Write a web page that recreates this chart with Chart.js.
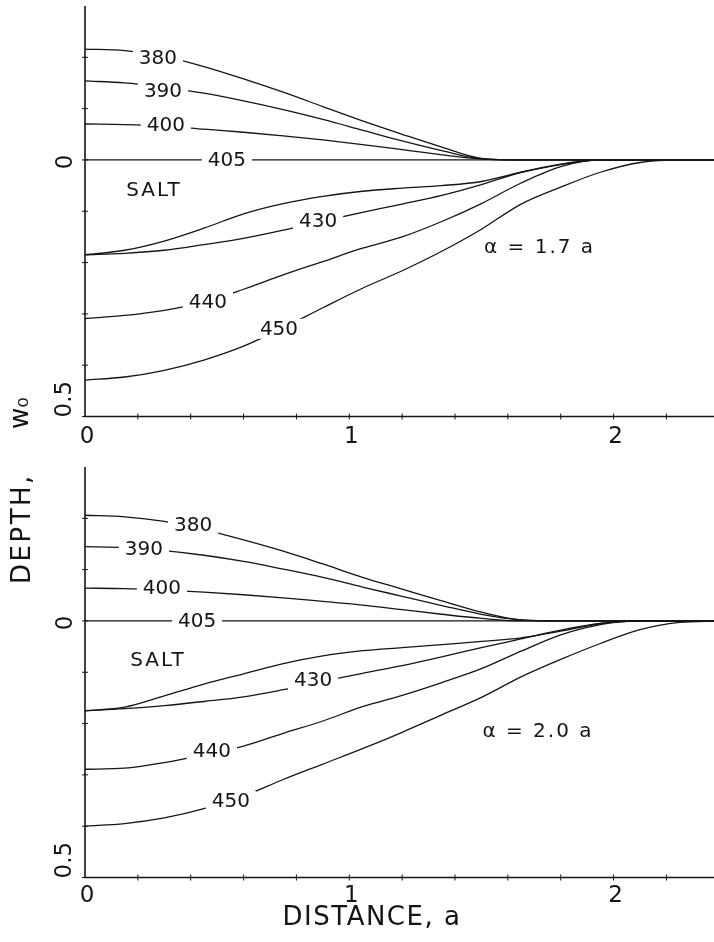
<!DOCTYPE html>
<html>
<head>
<meta charset="utf-8">
<script src="https://cdn.jsdelivr.net/npm/chart.js@4.4.0/dist/chart.umd.min.js"></script>
<style>
  html, body { margin: 0; padding: 0; background: #fff; }
  #wrap { position: relative; width: 714px; height: 942px; overflow: hidden; }
  canvas { position: absolute; left: 0; top: 0; }
</style>
</head>
<body>
<div id="wrap">
  <canvas id="topChart" width="714" height="942"></canvas>
  <canvas id="bottomChart" width="714" height="942"></canvas>
</div>
<script>
// distance, in units of a
const distance = [0, 0.15, 0.3, 0.45, 0.6, 0.75, 0.9, 1.05, 1.2, 1.35, 1.5, 1.65, 1.8, 1.95, 2.1, 2.25, 2.4];

// depth w0 of each contour, d = 1.7 a (top panel)
const top380 = [-0.216, -0.213, -0.202, -0.182, -0.158, -0.132, -0.104, -0.076, -0.050, -0.025, -0.003, 0, 0, 0, 0, 0, 0];
const top390 = [-0.154, -0.150, -0.141, -0.130, -0.115, -0.098, -0.079, -0.058, -0.037, -0.018, -0.002, 0, 0, 0, 0, 0, 0];
const top400 = [-0.070, -0.069, -0.066, -0.060, -0.054, -0.047, -0.039, -0.030, -0.020, -0.010, -0.002, 0, 0, 0, 0, 0, 0];
const top405 = [0, 0, 0, 0, 0, 0, 0, 0, 0, 0, 0, 0, 0, 0, 0, 0, 0];
const top420 = [0.185, 0.176, 0.158, 0.133, 0.105, 0.085, 0.071, 0.061, 0.055, 0.050, 0.042, 0.024, 0.009, 0, 0, 0, 0];
const top430 = [0.185, 0.182, 0.176, 0.165, 0.153, 0.137, 0.119, 0.102, 0.086, 0.069, 0.048, 0.024, 0.008, 0, 0, 0, 0];
const top440 = [0.309, 0.303, 0.293, 0.277, 0.252, 0.224, 0.198, 0.172, 0.150, 0.120, 0.085, 0.045, 0.013, 0, 0, 0, 0];
const top450 = [0.429, 0.423, 0.410, 0.390, 0.363, 0.327, 0.288, 0.250, 0.216, 0.178, 0.135, 0.086, 0.053, 0.024, 0.005, 0, 0];

// d = 2.0 a (bottom panel)
const bot380 = [-0.206, -0.203, -0.194, -0.178, -0.158, -0.136, -0.111, -0.085, -0.062, -0.039, -0.017, -0.002, 0, 0, 0, 0, 0];
const bot390 = [-0.145, -0.143, -0.137, -0.128, -0.116, -0.101, -0.085, -0.066, -0.048, -0.030, -0.013, -0.002, 0, 0, 0, 0, 0];
const bot400 = [-0.064, -0.063, -0.060, -0.056, -0.051, -0.045, -0.038, -0.031, -0.022, -0.013, -0.005, 0, 0, 0, 0, 0, 0];
const bot405 = [0, 0, 0, 0, 0, 0, 0, 0, 0, 0, 0, 0, 0, 0, 0, 0, 0];
const bot420 = [0.175, 0.168, 0.146, 0.123, 0.103, 0.083, 0.068, 0.058, 0.052, 0.046, 0.040, 0.033, 0.020, 0.005, 0, 0, 0];
const bot430 = [0.175, 0.171, 0.165, 0.157, 0.148, 0.134, 0.118, 0.102, 0.087, 0.070, 0.052, 0.035, 0.018, 0.005, 0, 0, 0];
const bot440 = [0.289, 0.287, 0.276, 0.261, 0.244, 0.219, 0.195, 0.167, 0.145, 0.120, 0.093, 0.059, 0.027, 0.007, 0, 0, 0];
const bot450 = [0.400, 0.395, 0.384, 0.366, 0.341, 0.309, 0.279, 0.249, 0.217, 0.183, 0.149, 0.109, 0.075, 0.044, 0.017, 0.003, 0];

// axis ticks and labels
const xTicks = [0.2, 0.4, 0.6, 0.8, 1, 1.2, 1.4, 1.6, 1.8, 2, 2.2];
const xTickLabels = ['0', '1', '2'];
const yTicks = [-0.2, -0.1, 0, 0.1, 0.2, 0.3, 0.4, 0.5];
const yTickLabels = ['0', '0.5'];

const FONT = '"DejaVu Sans", sans-serif';
const INK = '#151515';

// label placements (data units) for each panel
const topNotes = [
  { t: '380', x: 0.276, y: -0.199 }, { t: '390', x: 0.295, y: -0.135 },
  { t: '400', x: 0.306, y: -0.068 }, { t: '405', x: 0.537, y: 0 },
  { t: 'SALT', x: 0.261, y: 0.058, bare: true }, { t: '430', x: 0.882, y: 0.119 },
  { t: '440', x: 0.465, y: 0.277 }, { t: '450', x: 0.734, y: 0.329 },
  { t: 'α = 1.7 a', x: 1.72, y: 0.17, bare: true }
];
const botNotes = [
  { t: '380', x: 0.409, y: -0.188 }, { t: '390', x: 0.223, y: -0.140 },
  { t: '400', x: 0.291, y: -0.065 }, { t: '405', x: 0.424, y: 0 },
  { t: 'SALT', x: 0.276, y: 0.076, bare: true }, { t: '430', x: 0.863, y: 0.115 },
  { t: '440', x: 0.48, y: 0.254 }, { t: '450', x: 0.552, y: 0.351 },
  { t: 'α = 2.0 a', x: 1.714, y: 0.214, bare: true }
];

function pts(ys) {
  return distance.map((d, i) => ({ x: d, y: ys[i] }));
}

function rotText(ctx, txt, x, y, align) {
  ctx.save();
  ctx.translate(x, y);
  ctx.rotate(-Math.PI / 2);
  ctx.textAlign = align;
  ctx.textBaseline = 'middle';
  ctx.fillText(txt, 0, 0);
  ctx.restore();
}

function decor(notes, tickGap, titles) {
  return {
    id: 'decor',
    afterDatasetsDraw(chart) {
      const ctx = chart.ctx, xs = chart.scales.x, ys = chart.scales.y;
      const x0 = xs.getPixelForValue(0);
      const yb = ys.getPixelForValue(0.5), yt = ys.getPixelForValue(-0.3);
      ctx.save();
      ctx.strokeStyle = INK;
      ctx.fillStyle = INK;

      // axes
      ctx.lineWidth = 1.6;
      ctx.beginPath();
      ctx.moveTo(x0, yt);
      ctx.lineTo(x0, yb);
      ctx.lineTo(chart.width, yb);
      ctx.stroke();

      // little cross ticks
      ctx.lineWidth = 1;
      ctx.beginPath();
      yTicks.forEach(v => {
        const p = ys.getPixelForValue(v);
        ctx.moveTo(x0 - 3, p); ctx.lineTo(x0 + 3, p);
      });
      xTicks.forEach(v => {
        const p = xs.getPixelForValue(v);
        ctx.moveTo(p, yb - 3); ctx.lineTo(p, yb + 3);
      });
      ctx.stroke();

      // tick labels
      ctx.font = '23px ' + FONT;
      ctx.textAlign = 'center';
      ctx.textBaseline = 'middle';
      xTickLabels.forEach((s, i) => {
        ctx.fillText(s, xs.getPixelForValue(i) + 2, yb + tickGap);
      });
      rotText(ctx, yTickLabels[0], x0 - 19, ys.getPixelForValue(0) + 2, 'center');
      rotText(ctx, yTickLabels[1], x0 - 20, yb + 1, 'left');

      // contour labels, with a white gap cut in the line
      ctx.font = '20px ' + FONT;
      notes.forEach(n => {
        const px = xs.getPixelForValue(n.x), py = ys.getPixelForValue(n.y);
        ctx.letterSpacing = n.bare ? '2px' : '0px';
        const w = ctx.measureText(n.t).width;
        if (!n.bare) {
          ctx.fillStyle = '#fff';
          ctx.fillRect(px - w / 2 - 6, py - 10, w + 12, 20);
        }
        ctx.fillStyle = INK;
        ctx.textAlign = 'center';
        ctx.textBaseline = 'middle';
        ctx.fillText(n.t, px, py + 1);
      });

      if (titles) {
        ctx.font = '26px ' + FONT;
        ctx.letterSpacing = '1.5px';
        ctx.textAlign = 'center';
        ctx.textBaseline = 'middle';
        ctx.fillText('DISTANCE, a', 372, 918);
        ctx.letterSpacing = '2.5px';
        rotText(ctx, 'DEPTH,', 23, 584, 'left');
        ctx.letterSpacing = '0px';
        rotText(ctx, 'w₀', 21, 429, 'left');
      }
      ctx.letterSpacing = '0px';
      ctx.restore();
    }
  };
}

function makePanel(id, series, padTop, padBottom, notes, tickGap, titles) {
  return new Chart(document.getElementById(id), {
    type: 'line',
    data: {
      datasets: series.map((s, i) => ({
        label: 'c' + i,
        data: pts(s),
        borderColor: INK,
        borderWidth: 1.3,
        pointRadius: 0,
        cubicInterpolationMode: 'monotone',
        fill: false
      }))
    },
    options: {
      responsive: false,
      animation: false,
      devicePixelRatio: 1,
      layout: { padding: { left: 85, right: 0, top: padTop, bottom: padBottom } },
      plugins: { legend: { display: false }, tooltip: { enabled: false } },
      scales: {
        x: { type: 'linear', min: 0, max: 2.38, display: false },
        y: { type: 'linear', min: -0.3, max: 0.5, reverse: true, display: false }
      }
    },
    plugins: [decor(notes, tickGap, titles)]
  });
}

makePanel('topChart',
  [top380, top390, top400, top405, top420, top430, top440, top450],
  6, 942 - 416.5, topNotes, 21, false);
makePanel('bottomChart',
  [bot380, bot390, bot400, bot405, bot420, bot430, bot440, bot450],
  467, 942 - 877.5, botNotes, 19, true);
</script>
</body>
</html>
